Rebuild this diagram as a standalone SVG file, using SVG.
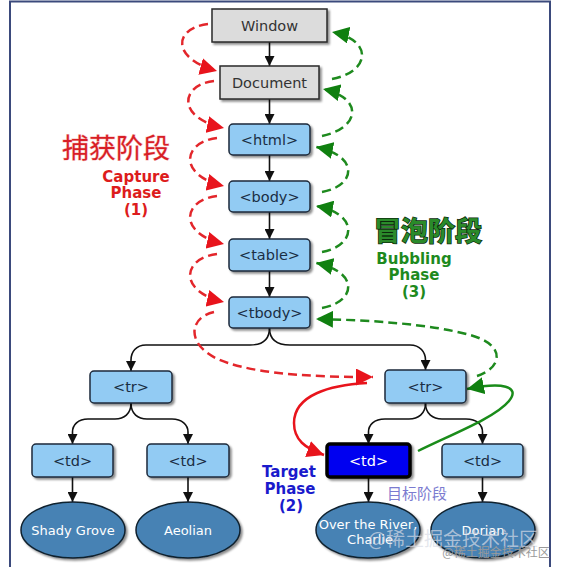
<svg xmlns="http://www.w3.org/2000/svg" width="564" height="574" viewBox="0 0 564 574">
<style>
.gray{fill:#dcdcdc;stroke:#2a2a2a;stroke-width:1.5}
.blue{fill:#92cbf3;stroke:#1e2a3a;stroke-width:1.5}
.tgt{fill:#0000f0;stroke:#000;stroke-width:3.5}
.ell{fill:#4682b4;stroke:#10202e;stroke-width:1.5}
.lbl{font-family:"DejaVu Sans",Verdana,sans-serif;font-size:14.5px;fill:#1a2e44;text-anchor:middle}
.glbl{font-family:"DejaVu Sans",Verdana,sans-serif;font-size:14.5px;fill:#333;text-anchor:middle}
.wlbl{font-family:"DejaVu Sans",Verdana,sans-serif;font-size:13px;fill:#fff;text-anchor:middle}
.tree{fill:none;stroke:#111;stroke-width:1.6}
.cap{fill:none;stroke:#e3262b;stroke-width:2.5;stroke-dasharray:9 5}
.bub{fill:none;stroke:#1e8a1e;stroke-width:2.5;stroke-dasharray:9 5}
.phase{font-family:"DejaVu Sans",Verdana,sans-serif;font-size:15px;font-weight:bold;text-anchor:middle}
.cn{font-family:"Noto Sans CJK SC",sans-serif;text-anchor:middle}
</style>
<defs>
<filter id="sh" x="-20%" y="-20%" width="150%" height="160%">
<feDropShadow dx="2" dy="2" stdDeviation="1.2" flood-color="#000" flood-opacity="0.45"/>
</filter>
<marker id="ab" markerUnits="userSpaceOnUse" markerWidth="10" markerHeight="10" refX="10" refY="5" orient="auto">
<path d="M0,0 L10,5 L0,10 z" fill="#111"/>
</marker>
<marker id="ar" markerUnits="userSpaceOnUse" markerWidth="17" markerHeight="17" refX="17" refY="8.5" orient="auto">
<path d="M0,0 L17,8.5 L0,17 z" fill="#e8141c"/>
</marker>
<marker id="ag" markerUnits="userSpaceOnUse" markerWidth="17" markerHeight="17" refX="17" refY="8.5" orient="auto">
<path d="M0,0 L17,8.5 L0,17 z" fill="#108010"/>
</marker>
</defs>
<rect width="564" height="574" fill="#fff"/>
<path d="M10,567 L10,1.5 L550,1.5 L550,567" fill="none" stroke="#3b4a7c" stroke-width="2"/>

<g id="connectors">
<path class="tree" d="M269.5,42 L269.5,66" marker-end="url(#ab)"/>
<path class="tree" d="M269.5,99 L269.5,124" marker-end="url(#ab)"/>
<path class="tree" d="M269.5,155 L269.5,181" marker-end="url(#ab)"/>
<path class="tree" d="M269.5,212 L269.5,239" marker-end="url(#ab)"/>
<path class="tree" d="M269.5,271 L269.5,297" marker-end="url(#ab)"/>
<path class="tree" d="M269.5,328 C269.5,340 262,345 250,345 L146,345 C136,345 131,352 131,360 L131,371" marker-end="url(#ab)"/>
<path class="tree" d="M269.5,328 C269.5,340 277,345 290,345 L410,345 C420,345 425.5,352 425.5,360 L425.5,370" marker-end="url(#ab)"/>
<path class="tree" d="M131,403 C131,414 124,419 115,419 L88,419 C78,419 72.5,425 72.5,432 L72.5,444" marker-end="url(#ab)"/>
<path class="tree" d="M131,403 C131,414 138,419 147,419 L172,419 C182,419 188,425 188,432 L188,444" marker-end="url(#ab)"/>
<path class="tree" d="M425.5,403 C425.5,414 418,419 409,419 L385,419 C374,419 368.5,425 368.5,432 L368.5,444" marker-end="url(#ab)"/>
<path class="tree" d="M425.5,403 C425.5,414 433,419 442,419 L466,419 C477,419 482.5,425 482.5,432 L482.5,444" marker-end="url(#ab)"/>
<path class="tree" d="M72.5,477 L72.5,502" marker-end="url(#ab)"/>
<path class="tree" d="M188,477 L188,502" marker-end="url(#ab)"/>
<path class="tree" d="M368.5,477 L368.5,502" marker-end="url(#ab)"/>
<path class="tree" d="M482.5,477 L482.5,502" marker-end="url(#ab)"/>
<path class="cap" d="M208,24 C174,28 170,58 217,71" marker-end="url(#ar)"/>
<path class="cap" d="M214,81 C180,85 176,118 224,128" marker-end="url(#ar)"/>
<path class="cap" d="M217,138 C182,142 178,176 224,186" marker-end="url(#ar)"/>
<path class="cap" d="M217,196 C182,200 178,234 224,244" marker-end="url(#ar)"/>
<path class="cap" d="M217,254 C182,258 178,292 224,302" marker-end="url(#ar)"/>
<path class="cap" d="M214,312 C186,318 186,350 228,363 C265,375 320,377 373,377" marker-end="url(#ar)"/>
<path class="bub" d="M332,79 C370,72 374,40 332,32" marker-end="url(#ag)"/>
<path class="bub" d="M322,136 C360,128 364,98 323,89" marker-end="url(#ag)"/>
<path class="bub" d="M322,192 C356,186 360,156 316,147" marker-end="url(#ag)"/>
<path class="bub" d="M322,252 C356,246 360,214 316,206" marker-end="url(#ag)"/>
<path class="bub" d="M322,308 C356,302 360,272 316,263" marker-end="url(#ag)"/>
<path class="bub" d="M477,376 C502,368 507,345 470,335 C430,324 370,320 316,319" marker-end="url(#ag)"/>
<path d="M367,383 C330,385 294,395 294,423 C294,440 305,448 324,455" fill="none" stroke="#e8141c" stroke-width="2.5" marker-end="url(#ar)"/>
<path d="M418,451 C450,435 495,418 509,401 C521,386 502,382 467,389" fill="none" stroke="#1a8c1a" stroke-width="2.5" marker-end="url(#ag)"/>
</g>

<g id="window" filter="url(#sh)"><rect class="gray" x="212" y="9" width="115" height="33"/></g>
<text class="glbl" x="269.5" y="31">Window</text>
<g id="document" filter="url(#sh)"><rect class="gray" x="220" y="66" width="99" height="33"/></g>
<text class="glbl" x="269.5" y="88">Document</text>

<g id="html"><rect class="blue" x="229" y="124" width="81" height="31" rx="4" filter="url(#sh)"/><text class="lbl" x="269.5" y="145">&lt;html&gt;</text></g>
<g id="body"><rect class="blue" x="229" y="181" width="81" height="31" rx="4" filter="url(#sh)"/><text class="lbl" x="269.5" y="202">&lt;body&gt;</text></g>
<g id="table"><rect class="blue" x="229" y="239" width="81" height="32" rx="4" filter="url(#sh)"/><text class="lbl" x="269.5" y="260">&lt;table&gt;</text></g>
<g id="tbody"><rect class="blue" x="229" y="297" width="81" height="31" rx="4" filter="url(#sh)"/><text class="lbl" x="269.5" y="318">&lt;tbody&gt;</text></g>
<g id="tr-left"><rect class="blue" x="90" y="371" width="82" height="32" rx="4" filter="url(#sh)"/><text class="lbl" x="131" y="392">&lt;tr&gt;</text></g>
<g id="td-1"><rect class="blue" x="32" y="444" width="81" height="33" rx="4" filter="url(#sh)"/><text class="lbl" x="72.5" y="466">&lt;td&gt;</text></g>
<g id="td-2"><rect class="blue" x="147" y="444" width="82" height="33" rx="4" filter="url(#sh)"/><text class="lbl" x="188" y="466">&lt;td&gt;</text></g>
<g id="tr-right"><rect class="blue" x="385" y="370" width="81" height="33" rx="4" filter="url(#sh)"/><text class="lbl" x="425.5" y="392">&lt;tr&gt;</text></g>
<g id="td-target"><rect class="tgt" x="327" y="444" width="83" height="33" rx="3" filter="url(#sh)"/><text class="lbl" x="368.5" y="466" style="fill:#fff">&lt;td&gt;</text></g>
<g id="td-4"><rect class="blue" x="442" y="444" width="81" height="33" rx="4" filter="url(#sh)"/><text class="lbl" x="482.5" y="466">&lt;td&gt;</text></g>

<g id="shady"><ellipse class="ell" cx="73" cy="530" rx="52" ry="28" filter="url(#sh)"/><text class="wlbl" x="73" y="535">Shady Grove</text></g>
<g id="aeolian"><ellipse class="ell" cx="188" cy="530" rx="52" ry="28" filter="url(#sh)"/><text class="wlbl" x="188" y="535">Aeolian</text></g>
<g id="river"><ellipse class="ell" cx="368" cy="530" rx="52" ry="28" filter="url(#sh)"/><text class="wlbl" x="368" y="529">Over the River,</text><text class="wlbl" x="370" y="544">Charlie</text></g>
<g id="dorian"><ellipse class="ell" cx="483" cy="530" rx="52" ry="28" filter="url(#sh)"/><text class="wlbl" x="483" y="535">Dorian</text></g>

<g id="labels">
<text class="cn" x="116" y="158" font-size="27" fill="#d81e26" stroke="#f6c0c0" stroke-width="1" paint-order="stroke">捕获阶段</text>
<text class="phase" x="136" y="182" fill="#dd1c1c">Capture</text>
<text class="phase" x="136" y="198" fill="#dd1c1c">Phase</text>
<text class="phase" x="136" y="215" fill="#dd1c1c">(1)</text>
<text class="cn" x="428" y="241" font-size="27" font-weight="bold" fill="#2a8a2a" stroke="#0c2a0c" stroke-width="1.5" paint-order="stroke">冒泡阶段</text>
<text class="phase" x="414" y="264" fill="#1e8a1e">Bubbling</text>
<text class="phase" x="414" y="280" fill="#1e8a1e">Phase</text>
<text class="phase" x="414" y="297" fill="#1e8a1e">(3)</text>
<text class="phase" x="289" y="477" fill="#1a1acc">Target</text>
<text class="phase" x="290" y="494" fill="#1a1acc">Phase</text>
<text class="phase" x="291" y="511" fill="#1a1acc">(2)</text>
<text class="cn" x="417" y="499" font-size="15" fill="#7b7bd0">目标阶段</text>
<text class="cn" x="453" y="546" font-size="19" fill="#d8dce6" fill-opacity="0.7">@稀土掘金技术社区</text>
<text class="cn" x="496" y="557" font-size="12" fill="#9a9a9a">@稀土掘金技术社区</text>
</g>
</svg>
